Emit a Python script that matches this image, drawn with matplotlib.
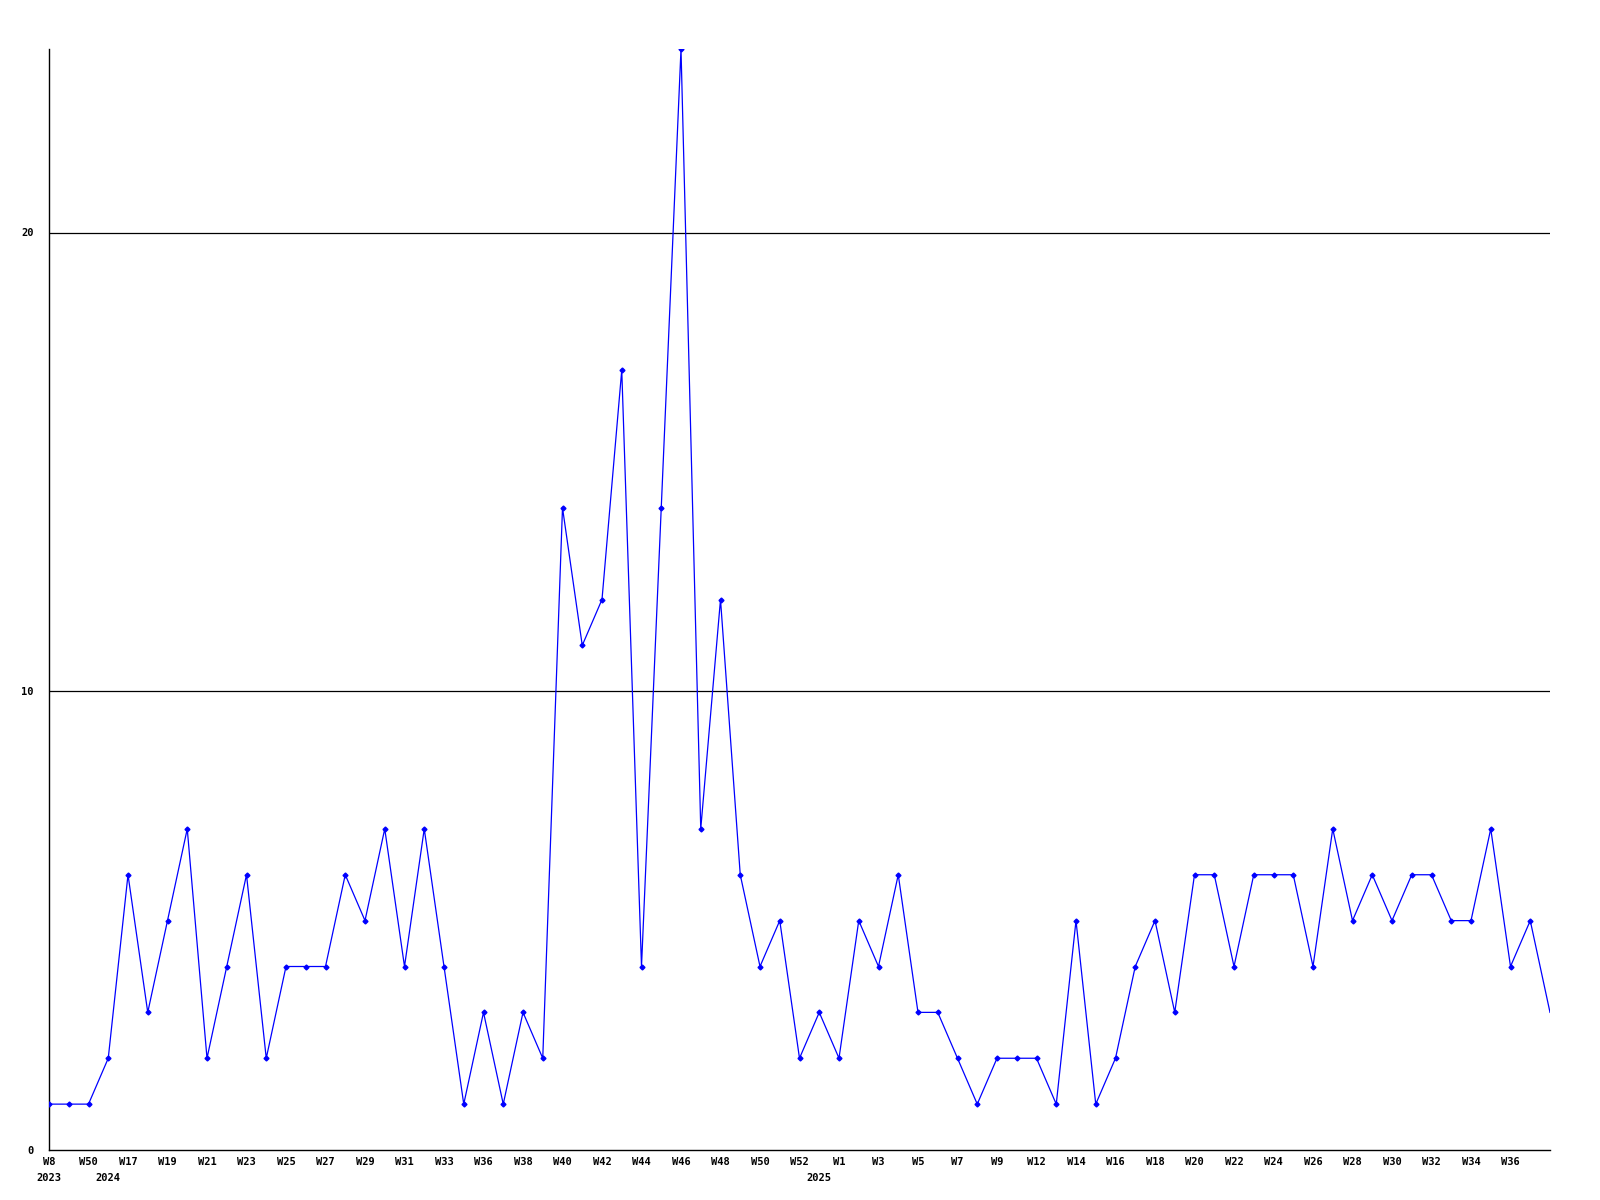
import matplotlib
matplotlib.use("Agg")
import matplotlib.pyplot as plt

# weekly counts, one per point (77 points)
values = [1, 1, 1, 2, 6, 3, 5, 7, 2, 4, 6, 2, 4, 4, 4, 6, 5, 7, 4, 7,
          4, 1, 3, 1, 3, 2, 14, 11, 12, 17, 4, 14, 24, 7, 12, 6, 4, 5, 2, 3,
          2, 5, 4, 6, 3, 3, 2, 1, 2, 2, 2, 1, 5, 1, 2, 4, 5, 3, 6, 6,
          4, 6, 6, 6, 4, 7, 5, 6, 5, 6, 6, 5, 5, 7, 4, 5, 3]

# week labels, shown on every second point
week_labels = ["W8", "W50", "W17", "W19", "W21", "W23", "W25", "W27", "W29", "W31",
               "W33", "W36", "W38", "W40", "W42", "W44", "W46", "W48", "W50", "W52",
               "W1", "W3", "W5", "W7", "W9", "W12", "W14", "W16", "W18", "W20",
               "W22", "W24", "W26", "W28", "W30", "W32", "W34", "W36"]

# year labels and the point where each year starts
years = ["2023", "2024", "2025"]
year_pos = [0, 3, 39]

y_ticks = [0, 10, 20]

x = list(range(len(values)))
font = dict(family="DejaVu Sans Mono", weight="bold", size=7.5)

fig = plt.figure(figsize=(16, 12), dpi=100)
ax = fig.add_axes([49 / 1600, 1 - 1150 / 1200, 1501 / 1600, 1101 / 1200])

for yv in y_ticks[1:]:
    ax.axhline(yv, color="black", lw=0.9, zorder=1)

ax.plot(x, values, color="#0000ff", lw=0.9, marker="D", ms=2.5,
        markevery=list(range(len(values) - 1)), zorder=3)

ax.set_xlim(0, len(values) - 1)
ax.set_ylim(0, 24)

ax.spines["top"].set_visible(False)
ax.spines["right"].set_visible(False)
ax.spines["left"].set_linewidth(1)
ax.spines["bottom"].set_linewidth(1)

ax.set_yticks(y_ticks)
ax.set_yticklabels([str(v) for v in y_ticks], **font)
ax.tick_params(axis="y", length=0, pad=11)

ax.set_xticks(x[:-1:2])
ax.set_xticklabels(week_labels, **font)
ax.tick_params(axis="x", length=0, pad=5)

for yr, p in zip(years, year_pos):
    ax.text(p, -0.021, yr, transform=ax.get_xaxis_transform(),
            ha="center", va="top", **font)

fig.savefig("out.png", dpi=100)
